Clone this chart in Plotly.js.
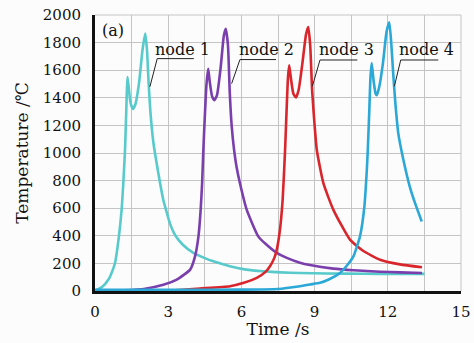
<!DOCTYPE html>
<html><head><meta charset="utf-8">
<script src="https://cdn.plot.ly/plotly-3.0.1.min.js"></script>
<style>html,body{margin:0;padding:0;background:#fff}#c{width:474px;height:343px}</style>
</head><body><div id="c"></div>
<script>
// Node 1 (cyan)
const t1 = [0,0.3,0.55,0.7,0.82,0.98,1.09,1.16,1.23,1.27,1.3,1.33,1.38,1.45,1.55,1.65,1.8,1.95,2.06,2.13,2.2,2.27,2.39,2.6,2.8,2.94,3.07,3.3,3.6,4.03,4.5,4.85,5.53,6.2,6.9,7.6,8.4,9.5,11.0,12.5,13.5];
const T1 = [0,30,83,140,203,396,588,781,1022,1238,1420,1550,1480,1370,1320,1350,1500,1750,1865,1750,1500,1300,1080,850,660,570,490,400,335,276,238,215,180,155,143,135,130,127,125,124,124];
// Node 2 (purple)
const t2 = [1.2,2.0,2.8,3.35,3.9,4.1,4.24,4.33,4.39,4.44,4.5,4.57,4.64,4.7,4.8,4.89,5.0,5.15,5.28,5.36,5.45,5.52,5.6,5.7,5.8,5.94,6.22,6.69,7.0,7.45,7.86,8.4,8.81,9.77,10.6,11.68,12.5,13.4];
const T2 = [5,15,45,83,155,251,396,588,781,1022,1262,1500,1611,1520,1410,1383,1420,1620,1850,1900,1780,1450,1200,1022,900,781,588,396,340,276,240,205,188,162,150,140,135,130];
// Node 3 (red)
const t3 = [3.3,4.3,5.53,6.1,6.63,7.0,7.17,7.35,7.45,7.58,7.69,7.79,7.85,7.91,7.96,8.03,8.13,8.24,8.35,8.5,8.65,8.74,8.82,8.9,9.0,9.09,9.36,9.77,10.45,11.0,11.68,12.5,13.4];
const T3 = [5,18,35,60,95,140,179,240,300,444,660,1022,1300,1550,1635,1540,1430,1402,1460,1650,1860,1912,1780,1450,1200,1022,781,588,372,290,227,193,172];
// Node 4 (blue)
const t4 = [0,3,6,7.5,8.4,8.81,9.22,9.6,10.04,10.35,10.59,10.86,11.04,11.14,11.18,11.24,11.29,11.34,11.42,11.5,11.55,11.65,11.8,11.95,12.06,12.14,12.22,12.3,12.43,12.64,12.9,13.15,13.39];
const T4 = [8,8,10,15,35,47,59,85,131,190,251,396,612,877,1022,1300,1550,1652,1520,1430,1419,1480,1650,1880,1948,1800,1580,1383,1142,949,757,620,504];
const nodeNames = ['node 1','node 2','node 3','node 4'];
const xTicks = [0,3,6,9,12,15];
const yTicks = [0,200,400,600,800,1000,1200,1400,1600,1800,2000];

const colors = ['#58CACB','#7A3FAC','#D8262C','#2BA8D6'];
const series = [[t1,T1],[t2,T2],[t3,T3],[t4,T4]];
const data = series.map((s,i)=>({x:s[0],y:s[1],type:'scatter',mode:'lines',
  line:{color:colors[i],width:2.6,shape:'spline',smoothing:0.5},hoverinfo:'skip',showlegend:false}));

// label layout: [textX, textY, underline start, underline end, lineY, tipX, tipY]
const lab = [[2.36,1751,2.55,4.05,1684,2.25,1480],[5.81,1751,5.94,7.42,1677,5.60,1503],
             [9.11,1751,9.22,10.75,1674,8.91,1484],[12.36,1751,12.53,14.07,1674,12.27,1484]];
const font = 'DejaVu Serif, Liberation Serif, serif';
const annotations = lab.map((l,i)=>({x:l[0],y:l[1],xref:'x',yref:'y',text:nodeNames[i],showarrow:false,
  xanchor:'left',yanchor:'middle',font:{family:font,size:16,color:'#111'}}));
annotations.push({x:0.015,y:0.985,xref:'paper',yref:'paper',text:'(a)',showarrow:false,xanchor:'left',yanchor:'top',
  font:{family:font,size:16,color:'#111'}});
const shapes = lab.map(l=>({type:'path',xref:'x',yref:'y',
  path:`M ${l[3]} ${l[4]} L ${l[2]} ${l[4]} L ${l[5]} ${l[6]}`,line:{color:'#222',width:1}}));
shapes.push({type:'line',xref:'paper',yref:'paper',x0:0,x1:1,y0:1,y1:1,line:{color:'#c4c4c4',width:1},layer:'below'});
shapes.push({type:'line',xref:'paper',yref:'paper',x0:1,x1:1,y0:0,y1:1,line:{color:'#c4c4c4',width:1},layer:'below'});

const layout = {
  width:474,height:343,margin:{l:95,r:13,t:14.5,b:51.5},
  paper_bgcolor:'#fcfcfc',plot_bgcolor:'#fcfcfc',
  font:{family:font,size:15,color:'#111'},
  xaxis:{range:[0,15],tickvals:xTicks,ticktext:xTicks.map(String),showgrid:true,gridcolor:'#c4c4c4',gridwidth:1,
    minor:{dtick:1.5,tick0:0,showgrid:true,gridcolor:'#c4c4c4',gridwidth:1},
    showline:true,linecolor:'#111',linewidth:3,zeroline:false,ticks:'outside',ticklen:5,tickcolor:'rgba(0,0,0,0)',
    title:{text:'Time /s',font:{family:font,size:17,color:'#111'},standoff:4}},
  yaxis:{range:[0,2000],tickvals:yTicks,ticktext:yTicks.map(String),showgrid:true,gridcolor:'#c4c4c4',gridwidth:1,
    showline:true,linecolor:'#111',linewidth:3,zeroline:false,ticks:'outside',ticklen:8,tickcolor:'rgba(0,0,0,0)',
    title:{text:'Temperature /℃',font:{family:font,size:17,color:'#111'},standoff:10}},
  annotations:annotations,shapes:shapes
};
Plotly.newPlot('c',data,layout,{staticPlot:true,displayModeBar:false});
</script></body></html>
